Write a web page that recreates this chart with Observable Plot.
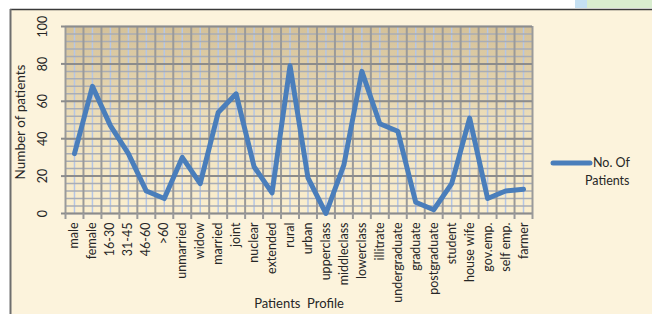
<!DOCTYPE html>
<html>
<head>
<meta charset="utf-8">
<script src="https://cdn.jsdelivr.net/npm/d3@7"></script>
<script src="https://cdn.jsdelivr.net/npm/@observablehq/plot@0.6"></script>
<style>
  html, body { margin: 0; padding: 0; background: #ffffff; }
  #chart svg { display: block; }
</style>
</head>
<body>
<div id="chart"></div>
<script>
const categories = ["male", "female", "16-30", "31-45", "46-60", ">60", "unmarried", "widow", "married", "joint", "nuclear", "extended", "rural", "urban", "upperclass", "middleclass", "lowerclass", "illitrate", "undergraduate", "graduate", "postgraduate", "student", "house wife", "gov.emp.", "self emp.", "farmer"];
const values = [32, 68, 47, 32, 12, 8, 30, 16, 54, 64, 25, 11, 79, 19, 0, 26, 76, 48, 44, 6, 2, 16, 51, 8, 12, 13];
const yTicks = [0, 20, 40, 60, 80, 100];
const seriesName = "No. Of Patients";
const xTitle = "Patients\u00a0 Profile";
const yTitle = "Number of patients";

const data = categories.map((c, i) => ({pos: i + 0.5, label: c, value: values[i]}));
const boundaries = d3.range(0, categories.length + 1);
const centers = categories.map((_, i) => i + 0.5);
const minorY = d3.range(0, 101, 4);

const font = "Lato, 'Open Sans', sans-serif";
const textColor = "#262626";

const chart = Plot.plot({
  width: 652,
  height: 314,
  marginLeft: 65,
  marginRight: 120,
  marginTop: 26,
  marginBottom: 101,
  style: {background: "transparent", fontFamily: font, overflow: "visible"},
  x: {domain: [0, categories.length], axis: null},
  y: {domain: [0, 100], axis: null},
  marks: [
    Plot.frame({fill: "url(#plotGrad)", stroke: null}),
    Plot.ruleX(centers, {stroke: "#b4c6e7", strokeWidth: 1.5}),
    Plot.ruleY(minorY, {stroke: "#a9adb5", strokeWidth: 1.5}),
    Plot.ruleX(boundaries, {stroke: "#9a9a9a", strokeWidth: 2}),
    Plot.ruleY(yTicks, {stroke: "#8c8c8c", strokeWidth: 2}),
    Plot.axisX(boundaries, {tickSize: 6, tickFormat: () => "", stroke: "#9a9a9a", strokeWidth: 2, label: null}),
    Plot.axisY(yTicks, {tickSize: 4, tickFormat: () => "", stroke: "#8c8c8c", strokeWidth: 2, label: null}),
    Plot.line(data, {x: "pos", y: "value", stroke: "#4a7ebb", strokeWidth: 5, strokeLinejoin: "round", strokeLinecap: "round"}),
    Plot.text(data, {x: "pos", text: "label", frameAnchor: "bottom", dy: 9, rotate: -90, textAnchor: "end", lineAnchor: "middle", fontSize: 12.5, fill: textColor}),
    Plot.text(yTicks, {y: d => d, text: d => String(d), frameAnchor: "left", dx: -23, rotate: -90, textAnchor: "middle", lineAnchor: "middle", fontSize: 12.5, fill: textColor}),
    Plot.text([yTitle], {text: d => d, frameAnchor: "left", dx: -45, dy: 2, rotate: -90, textAnchor: "middle", lineAnchor: "middle", fontSize: 13.5, fill: textColor}),
    Plot.text([xTitle], {text: d => d, frameAnchor: "bottom", dy: 90, textAnchor: "middle", lineAnchor: "middle", fontSize: 13, fill: textColor})
  ]
});

const svg = d3.select(chart);
// page-like background decoration
const bg = svg.insert("g", ":first-child");
bg.append("rect").attr("x", 0).attr("y", 0).attr("width", 652).attr("height", 314).attr("fill", "#ffffff");
bg.append("rect").attr("x", 10).attr("y", 9).attr("width", 642).attr("height", 305).attr("fill", "#fcf3dc");
bg.append("rect").attr("x", 575).attr("y", 0).attr("width", 12).attr("height", 8).attr("fill", "#c5e0f2");
bg.append("rect").attr("x", 587).attr("y", 0).attr("width", 65).attr("height", 8).attr("fill", "#d9edcf");
bg.append("line").attr("x1", 10).attr("x2", 652).attr("y1", 9.5).attr("y2", 9.5).attr("stroke", "#3a3a3a").attr("stroke-width", 1.5);
bg.append("line").attr("x1", 10.5).attr("x2", 10.5).attr("y1", 9).attr("y2", 314).attr("stroke", "#6e6e6e").attr("stroke-width", 2);

const defs = svg.insert("defs", ":first-child");
const grad = defs.append("linearGradient").attr("id", "plotGrad").attr("x1", 0).attr("x2", 0).attr("y1", 0).attr("y2", 1);
grad.append("stop").attr("offset", "0%").attr("stop-color", "#d4c199");
grad.append("stop").attr("offset", "55%").attr("stop-color", "#efe1bd");
grad.append("stop").attr("offset", "100%").attr("stop-color", "#fbefcf");

// legend
const leg = svg.append("g").attr("font-family", font).attr("font-size", 12.5).attr("fill", textColor).attr("text-anchor", "start");
leg.append("line").attr("x1", 553).attr("x2", 590).attr("y1", 163).attr("y2", 163).attr("stroke", "#4a7ebb").attr("stroke-width", 5).attr("stroke-linecap", "round");
const parts = seriesName.split(" ");
leg.append("text").attr("x", 593).attr("y", 167).text(parts.slice(0, 2).join(" "));
leg.append("text").attr("x", 585).attr("y", 185).text(parts.slice(2).join(" "));

document.getElementById("chart").appendChild(chart);
</script>
</body>
</html>
